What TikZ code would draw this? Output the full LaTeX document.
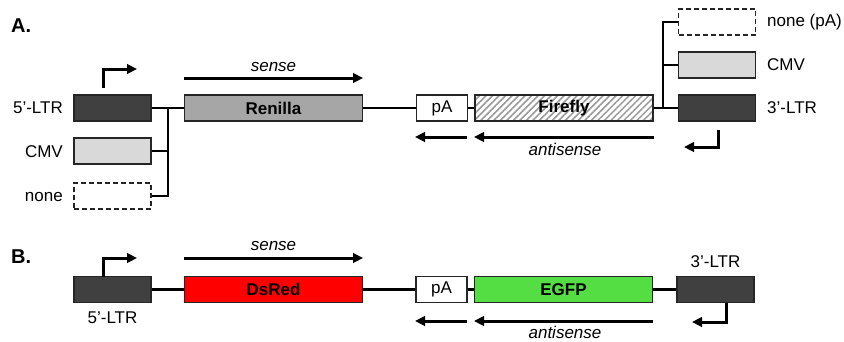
\documentclass[tikz,border=0pt]{standalone}
\usepackage{fontspec}
\setmainfont{Liberation Sans}
\usetikzlibrary{arrows.meta,patterns.meta}
\definecolor{ltrdark}{HTML}{404040}
\definecolor{cmvgray}{HTML}{D9D9D9}
\definecolor{rengray}{HTML}{A6A6A6}
\definecolor{dsred}{HTML}{FF0000}
\definecolor{egfp}{HTML}{55DD44}
\definecolor{hatchgray}{HTML}{999999}
\tikzset{
  elem/.style={draw=black!85, line width=1.2pt, minimum height=26pt, inner sep=0pt, font=\fontsize{17}{20}\selectfont},
  shortbox/.style={elem, minimum width=77pt},
  genebox/.style={elem, minimum width=178pt, font=\fontsize{17}{20}\selectfont\bfseries},
  pabox/.style={elem, minimum width=51pt, fill=white},
  link/.style={line width=2.2pt, black},
  darr/.style={line width=3pt, -{Triangle[length=10pt,width=9.5pt]}},
  prom/.style={line width=3pt, -{Triangle[length=10pt,width=9.5pt]}},
  lbl/.style={font=\fontsize{17}{20}\selectfont, inner sep=0pt},
  ilbl/.style={font=\fontsize{17}{20}\selectfont\itshape, inner sep=0pt},
  panel/.style={font=\fontsize{20}{23}\selectfont\bfseries, inner sep=0pt, anchor=west}
}
\begin{document}
\begin{tikzpicture}[x=1pt,y=-1pt]
\useasboundingbox (0,0) rectangle (844,341);
% ---------------- Panel A ----------------
\node[panel] (pA) at (11,26) {A.};
\node[shortbox, fill=ltrdark] (l5) at (112.5,108) {};
\node[shortbox, fill=cmvgray] (lcmv) at (112.5,151) {};
\node[shortbox, dashed, dash pattern=on 5pt off 3pt] (lnone) at (112.5,196) {};
\node[lbl, anchor=east] (l5t) at (63,108) {5’-LTR};
\node[lbl, anchor=east] (lcmvt) at (63,152) {CMV};
\node[lbl, anchor=east] (lnonet) at (63,197) {none};
\node[genebox, fill=rengray] (ren) at (273.5,108) {Renilla};
\node[pabox] (pa1) at (442,108) {\fontsize{17}{20}\selectfont pA};
\node[genebox, fill=white, postaction={pattern={Lines[angle=45,distance=4.6pt,line width=1.5pt]}, pattern color=hatchgray}] (ffbg) at (564,108) {};
\node[genebox, draw=black!85] (ff) at (564,108) {Firefly};
\node[shortbox, fill=ltrdark] (r3) at (717,108) {};
\node[shortbox, fill=cmvgray] (rcmv) at (717,65) {};
\node[shortbox, dashed, dash pattern=on 5pt off 3pt] (rnone) at (717,22) {};
\node[lbl, anchor=west] (r3t) at (767,108) {3’-LTR};
\node[lbl, anchor=west] (rcmvt) at (767,65) {CMV};
\node[lbl, anchor=west] (rnonet) at (767,22) {none (pA)};
\coordinate (bl) at (168,108);
\coordinate (br) at (663,108);
\draw[link] (l5.east) -- (ren.west);
\draw[link] (lcmv.east) -| (bl);
\draw[link] (lnone.east) -| (bl);
\draw[link] (ren.east) -- (pa1.west);
\draw[link] (pa1.east) -- (ff.west);
\draw[link] (ff.east) -- (r3.west);
\draw[link] (rcmv.west) -| (br);
\draw[link] (rnone.west) -| (br);
% promoters
\coordinate (p1s) at (103,88);
\coordinate (p1e) at (137,69);
\draw[prom] (p1s) |- (p1e);
\coordinate (p2s) at (718,130);
\coordinate (p2e) at (684,147);
\draw[prom] (p2s) |- (p2e);
% sense / antisense
\coordinate (s1a) at (184,78); \coordinate (s1b) at (363,78);
\draw[darr] (s1a) -- (s1b);
\node[ilbl] (sense1) at (273.5,67) {sense};
\coordinate (a1a) at (467,137); \coordinate (a1b) at (415,137);
\draw[darr] (a1a) -- (a1b);
\coordinate (a2a) at (654,137); \coordinate (a2b) at (474,137);
\draw[darr] (a2a) -- (a2b);
\node[ilbl] (anti1) at (565,149) {antisense};
% ---------------- Panel B ----------------
\node[panel] (pB) at (11,257) {B.};
\node[shortbox, fill=ltrdark] (b5) at (112.5,289.5) {};
\node[genebox, fill=dsred] (ds) at (273.5,289.5) {DsRed};
\node[pabox] (pa2) at (441.5,289.5) {\fontsize{17}{20}\selectfont pA};
\node[genebox, fill=egfp] (eg) at (563.5,289.5) {EGFP};
\node[shortbox, fill=ltrdark] (b3) at (715.5,289.5) {};
\node[lbl] (b5t) at (112.5,318) {5’-LTR};
\node[lbl] (b3t) at (715.5,262) {3’-LTR};
\draw[link] (b5.east) -- (ds.west);
\draw[link] (ds.east) -- (pa2.west);
\draw[link] (pa2.east) -- (eg.west);
\draw[link] (eg.east) -- (b3.west);
\coordinate (p3s) at (103,276.5);
\coordinate (p3e) at (137,258);
\draw[prom] (p3s) |- (p3e);
\coordinate (p4s) at (726,302.5);
\coordinate (p4e) at (692,322);
\draw[prom] (p4s) |- (p4e);
\coordinate (s2a) at (184,258); \coordinate (s2b) at (363,258);
\draw[darr] (s2a) -- (s2b);
\node[ilbl] (sense2) at (273.5,246) {sense};
\coordinate (a3a) at (467,321); \coordinate (a3b) at (415,321);
\draw[darr] (a3a) -- (a3b);
\coordinate (a4a) at (653,321); \coordinate (a4b) at (474,321);
\draw[darr] (a4a) -- (a4b);
\node[ilbl] (anti2) at (565,332) {antisense};
\end{tikzpicture}
\end{document}
